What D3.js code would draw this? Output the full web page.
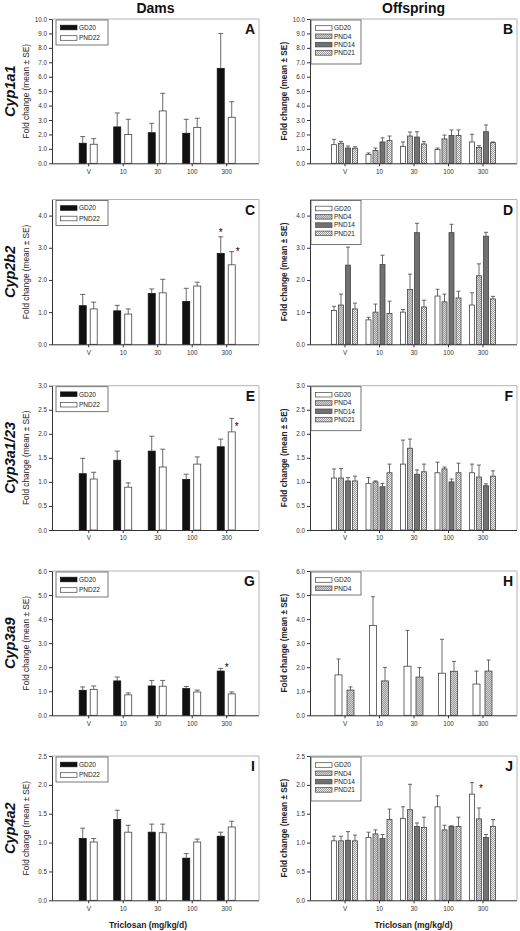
<!DOCTYPE html>
<html><head><meta charset="utf-8">
<script src="https://cdn.jsdelivr.net/npm/d3@7"></script>
<style>body{margin:0;background:#fff}svg{display:block;font-family:"Liberation Sans",Arial,sans-serif}</style>
</head><body><svg id="c" width="520" height="931"></svg>
<script>
// ---------- categories / labels ----------
const categories = ["V", "10", "30", "100", "300"];
const damSeries = ["GD20", "PND22"];
const offSeries = ["GD20", "PND4", "PND14", "PND21"];
const offSeriesH = ["GD20", "PND4"];
const genes = ["Cyp1a1", "Cyp2b2", "Cyp3a1/23", "Cyp3a9", "Cyp4a2"];
const colTitles = ["Dams", "Offspring"];
const xTitle = "Triclosan (mg/kg/d)";
const yTitle = "Fold change (mean \u00B1 SE)";

// ---------- y tick values per row ----------
const ticksRow1 = [0, 1, 2, 3, 4, 5, 6, 7, 8, 9, 10];
const ticksRow2 = [0, 1, 2, 3, 4];
const ticksRow3 = [0, 0.5, 1, 1.5, 2, 2.5, 3];
const ticksRow4 = [0, 1, 2, 3, 4, 5, 6];
const ticksRow5 = [0, 0.5, 1, 1.5, 2, 2.5];
const yMaxRows = [10, 4.5, 3, 6, 2.5];

// ---------- data: means and SE (series x categories) ----------
const A_mean = [[1.39, 2.52, 2.12, 2.08, 6.58], [1.32, 1.99, 3.63, 2.49, 3.19]];
const A_se   = [[0.46, 0.97, 0.65, 0.97, 2.42], [0.39, 1.06, 1.22, 0.63, 1.08]];
const B_mean = [[1.29, 0.62, 1.18, 0.95, 1.48], [1.39, 0.88, 1.89, 1.69, 1.09], [1.06, 1.48, 1.82, 1.92, 2.19], [1.04, 1.57, 1.34, 1.92, 1.43]];
const B_se   = [[0.37, 0.10, 0.30, 0.11, 0.53], [0.13, 0.18, 0.28, 0.27, 0.13], [0.14, 0.28, 0.37, 0.39, 0.47], [0.11, 0.32, 0.16, 0.39, 0.05]];
const C_mean = [[1.20, 1.04, 1.58, 1.33, 2.82], [1.10, 0.94, 1.60, 1.81, 2.47]];
const C_se   = [[0.35, 0.17, 0.14, 0.41, 0.52], [0.21, 0.16, 0.42, 0.12, 0.41]];
const D_mean = [[1.05, 0.76, 1.00, 1.50, 1.22], [1.22, 1.00, 1.70, 1.32, 2.13], [2.46, 2.48, 3.47, 3.47, 3.36], [1.10, 0.96, 1.16, 1.44, 1.41]];
const D_se   = [[0.13, 0.08, 0.08, 0.21, 0.38], [0.34, 0.25, 0.48, 0.24, 0.37], [0.56, 0.29, 0.29, 0.26, 0.12], [0.18, 0.38, 0.21, 0.21, 0.08]];
const E_mean = [[1.17, 1.45, 1.64, 1.05, 1.73], [1.06, 0.89, 1.31, 1.37, 2.04]];
const E_se   = [[0.32, 0.19, 0.31, 0.11, 0.16], [0.14, 0.09, 0.37, 0.15, 0.28]];
const F_mean = [[1.08, 0.97, 1.37, 1.19, 1.19], [1.08, 1.00, 1.70, 1.27, 1.10], [1.02, 0.90, 1.16, 1.00, 0.92], [1.02, 1.19, 1.21, 1.19, 1.12]];
const F_se   = [[0.19, 0.12, 0.50, 0.22, 0.18], [0.20, 0.02, 0.19, 0.04, 0.25], [0.07, 0.07, 0.09, 0.06, 0.04], [0.10, 0.18, 0.16, 0.20, 0.11]];
const G_mean = [[1.04, 1.43, 1.22, 1.11, 1.84], [1.08, 0.85, 1.21, 0.97, 0.89]];
const G_se   = [[0.14, 0.16, 0.23, 0.09, 0.11], [0.14, 0.08, 0.24, 0.08, 0.08]];
const H_mean = [[1.68, 3.74, 2.04, 1.75, 1.30], [1.05, 1.43, 1.59, 1.83, 1.84]];
const H_se   = [[0.66, 1.19, 1.49, 1.41, 0.54], [0.13, 0.56, 0.40, 0.41, 0.46]];
const I_mean = [[1.07, 1.40, 1.18, 0.73, 1.11], [1.01, 1.18, 1.17, 1.01, 1.27]];
const I_se   = [[0.18, 0.16, 0.14, 0.08, 0.07], [0.06, 0.12, 0.15, 0.05, 0.10]];
const J_mean = [[1.03, 1.09, 1.42, 1.62, 1.84], [1.03, 1.15, 1.57, 1.22, 1.41], [1.04, 1.07, 1.28, 1.28, 1.09], [1.03, 1.40, 1.26, 1.28, 1.28]];
const J_se   = [[0.08, 0.09, 0.20, 0.19, 0.20], [0.08, 0.07, 0.44, 0.08, 0.19], [0.15, 0.07, 0.06, 0.01, 0.05], [0.10, 0.18, 0.18, 0.16, 0.12]];

// significance markers: panel, category index, series index
const sigPanels = ["C", "C", "E", "G", "J"];
const sigCats = [4, 4, 4, 4, 4];
const sigSeries = [0, 1, 1, 0, 0];

// ---------- layout (styling, not data) ----------
const rowTop = [19, 199.5, 385.7, 571, 756];
const rowBottom = [163.3, 344.3, 530, 715.3, 900.3];
const colLeft = [52, 310];
const colRight = [259, 517];
const colXDomain = [[-1.05, 4.95], [-1, 5]];
const sigDx = [0, 6, 5, 6, 9];
const sigDy = [-5, -1, 8, -1, 5];

const panels = [
  {id: "A", row: 0, col: 0, series: damSeries, mean: A_mean, se: A_se, ticks: ticksRow1},
  {id: "B", row: 0, col: 1, series: offSeries, mean: B_mean, se: B_se, ticks: ticksRow1},
  {id: "C", row: 1, col: 0, series: damSeries, mean: C_mean, se: C_se, ticks: ticksRow2},
  {id: "D", row: 1, col: 1, series: offSeries, mean: D_mean, se: D_se, ticks: ticksRow2},
  {id: "E", row: 2, col: 0, series: damSeries, mean: E_mean, se: E_se, ticks: ticksRow3},
  {id: "F", row: 2, col: 1, series: offSeries, mean: F_mean, se: F_se, ticks: ticksRow3},
  {id: "G", row: 3, col: 0, series: damSeries, mean: G_mean, se: G_se, ticks: ticksRow4},
  {id: "H", row: 3, col: 1, series: offSeriesH, mean: H_mean, se: H_se, ticks: ticksRow4},
  {id: "I", row: 4, col: 0, series: damSeries, mean: I_mean, se: I_se, ticks: ticksRow5},
  {id: "J", row: 4, col: 1, series: offSeries, mean: J_mean, se: J_se, ticks: ticksRow5}
];

const svg = d3.select("#c");
const defs = svg.append("defs");
// hatch patterns
const p4 = defs.append("pattern").attr("id", "p4").attr("patternUnits", "userSpaceOnUse").attr("width", 2).attr("height", 2);
p4.append("rect").attr("width", 2).attr("height", 2).attr("fill", "#cfcfcf");
p4.append("path").attr("d", "M0,2L2,0").attr("stroke", "#8a8a8a").attr("stroke-width", 0.7);
const p14 = defs.append("pattern").attr("id", "p14").attr("patternUnits", "userSpaceOnUse").attr("width", 2).attr("height", 2);
p14.append("rect").attr("width", 2).attr("height", 2).attr("fill", "#8e8e8e");
p14.append("path").attr("d", "M0,0L2,2M0,2L2,0").attr("stroke", "#555").attr("stroke-width", 0.5);
const p21 = defs.append("pattern").attr("id", "p21").attr("patternUnits", "userSpaceOnUse").attr("width", 2).attr("height", 2);
p21.append("rect").attr("width", 2).attr("height", 2).attr("fill", "#ececec");
p21.append("rect").attr("width", 1).attr("height", 1).attr("fill", "#9a9a9a");
p21.append("rect").attr("x", 1).attr("y", 1).attr("width", 1).attr("height", 1).attr("fill", "#9a9a9a");

const fillFor = {GD20: null, PND22: "#fff", PND4: "url(#p4)", PND14: "url(#p14)", PND21: "url(#p21)"};
const strokeCol = "#333";

// column titles
colTitles.forEach((t, c) => {
  svg.append("text").attr("x", (colLeft[c] + colRight[c]) / 2).attr("y", 13)
    .attr("text-anchor", "middle").attr("font-size", 14).attr("font-weight", "bold").attr("fill", "#111").text(t);
});
// gene labels
genes.forEach((g, r) => {
  const cy = (rowTop[r] + rowBottom[r]) / 2;
  svg.append("text").attr("transform", `translate(15,${cy}) rotate(-90)`)
    .attr("text-anchor", "middle").attr("font-size", 14.5).attr("font-weight", "bold").attr("font-style", "italic")
    .attr("fill", "#111").text(g);
});

panels.forEach(p => {
  const top = rowTop[p.row], bottom = rowBottom[p.row];
  const left = colLeft[p.col], right = colRight[p.col];
  const isDam = p.col === 0;
  const g = svg.append("g");
  const y = d3.scaleLinear().domain([0, yMaxRows[p.row]]).range([bottom, top]);
  const x = d3.scaleLinear().domain(colXDomain[p.col]).range([left, right]);
  const n = p.series.length;
  const barW = n === 4 ? 5 : 7;
  const step = n === 4 ? 7 : (isDam ? 11 : 12);
  const groupW = n * step - (step - barW);
  const band = d3.scaleBand().domain(p.series).range([-groupW / 2, groupW / 2]).paddingInner((step - barW) / step);

  // frame (top & right, light)
  g.append("path").attr("d", `M${left},${top}H${right}V${bottom}`).attr("fill", "none").attr("stroke", "#b4b4b4").attr("stroke-width", 1);

  // bars
  p.series.forEach((s, si) => {
    const fill = s === "GD20" ? (isDam ? "#111" : "#fff") : fillFor[s];
    g.selectAll(null).data(p.mean[si]).join("rect")
      .attr("x", (d, i) => x(i) + band(s))
      .attr("y", d => y(d))
      .attr("width", band.bandwidth())
      .attr("height", d => y(0) - y(d))
      .attr("fill", fill)
      .attr("stroke", isDam && s === "GD20" ? "#111" : "#444")
      .attr("stroke-width", 0.8);
  });
  // error bars
  const cap = isDam ? 5 : 4;
  p.series.forEach((s, si) => {
    p.mean[si].forEach((m, i) => {
      const cx = x(i) + band(s) + band.bandwidth() / 2;
      const yt = y(m + p.se[si][i]);
      g.append("path").attr("d", `M${cx},${y(m)}V${yt}M${cx - cap / 2},${yt}H${cx + cap / 2}`)
        .attr("stroke", "#444").attr("stroke-width", 0.8).attr("fill", "none");
    });
  });

  // axes
  const ya = g.append("g").attr("transform", `translate(${left},0)`)
    .call(d3.axisLeft(y).tickValues(p.ticks).tickFormat(d3.format(".1f")).tickSize(3).tickSizeOuter(0).tickPadding(2));
  const xa = g.append("g").attr("transform", `translate(0,${bottom})`)
    .call(d3.axisBottom(x).tickValues(d3.range(categories.length)).tickFormat(i => categories[i]).tickSize(3).tickSizeOuter(0).tickPadding(3));
  [ya, xa].forEach(a => {
    a.selectAll("text").attr("font-size", 6.3).attr("fill", "#333").attr("font-family", "Liberation Sans, Arial, sans-serif");
    a.selectAll("line").attr("stroke", strokeCol);
    a.select(".domain").attr("stroke", strokeCol);
  });
  xa.select(".domain").attr("d", `M${left},0.5H${right}`);

  // y title
  g.append("text").attr("transform", `translate(${left - 23},${(top + bottom) / 2}) rotate(-90)`)
    .attr("text-anchor", "middle").attr("font-size", 8.3).attr("fill", "#222")
    .attr("font-weight", isDam ? "normal" : "bold").text(yTitle);

  // panel letter
  g.append("text").attr("x", right - 4).attr("y", top + 15).attr("text-anchor", "end")
    .attr("font-size", 14).attr("font-weight", "bold").attr("fill", "#111").text(p.id);

  // legend
  const lg = g.append("g");
  const rowH = isDam ? 10.5 : 8.3;
  const lx = isDam ? left + 4 : left + 1;
  const lw = isDam ? 52 : 50;
  const lh = isDam ? 25 : (n === 2 ? 23 : 44);
  lg.append("rect").attr("x", lx).attr("y", top + 1).attr("width", lw).attr("height", lh)
    .attr("fill", "#fff").attr("stroke", "#555").attr("stroke-width", 0.8);
  p.series.forEach((s, si) => {
    const ry = top + 1 + (isDam ? 7.5 : 8) + si * rowH;
    const fill = s === "GD20" ? (isDam ? "#111" : "#fff") : fillFor[s];
    lg.append("rect").attr("x", lx + 4.5).attr("y", ry - 2.3).attr("width", 16.5).attr("height", 4.6)
      .attr("fill", fill).attr("stroke", isDam && s === "GD20" ? "#111" : "#444").attr("stroke-width", 0.7);
    lg.append("text").attr("x", lx + 23).attr("y", ry + 2.3).attr("font-size", 6.5).attr("fill", "#222").text(s);
  });

  // x title on bottom row
  if (p.row === 4) {
    g.append("text").attr("x", isDam ? 148 : (left + right) / 2).attr("y", 928).attr("text-anchor", "middle")
      .attr("font-size", 8.5).attr("font-weight", "bold").attr("fill", "#222").text(xTitle);
  }

  // significance markers
  sigPanels.forEach((sp, k) => {
    if (sp !== p.id) return;
    const si = sigSeries[k], ci = sigCats[k];
    const s = p.series[si];
    const cx = x(ci) + band(s) + band.bandwidth() / 2;
    const yt = y(p.mean[si][ci] + p.se[si][ci]);
    g.append("text").attr("x", cx + sigDx[k]).attr("y", yt + sigDy[k] + 4).attr("text-anchor", "middle")
      .attr("font-size", 10).attr("fill", "#000").text("*");
  });
});
</script>
</body></html>
